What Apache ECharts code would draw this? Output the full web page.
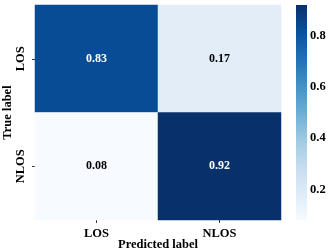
<!DOCTYPE html>
<html>
<head>
<meta charset="utf-8">
<script src="https://cdn.jsdelivr.net/npm/echarts@6/dist/echarts.min.js"></script>
<style>html,body{margin:0;padding:0;background:#fff;}#c{width:332px;height:252px;}</style>
</head>
<body>
<div id="c"></div>
<script>
const predictedLabels = ['LOS', 'NLOS'];
const trueLabels = ['LOS', 'NLOS'];
// rows: true label, cols: predicted label
const matrix = [
  [0.83, 0.17],
  [0.08, 0.92]
];
const colorbarTicks = [0.2, 0.4, 0.6, 0.8];
const vmin = 0.08, vmax = 0.92;
const blues = ['#f7fbff','#deebf7','#c6dbef','#9ecae1','#6baed6','#4292c6','#2171b5','#08519c','#08306b'];

const data = [];
matrix.forEach((row, i) => row.forEach((v, j) => data.push({
  value: [j, i, v],
  label: {color: v > 0.5 ? '#fff' : '#000'}
})));

const font = 'Liberation Serif, Times New Roman, serif';
const chart = echarts.init(document.getElementById('c'));
chart.setOption({
  animation: false,
  backgroundColor: '#fff',
  grid: [
    {left: 35, right: 51, top: 5, bottom: 32, containLabel: false, outerBoundsMode: 'none'},
    {left: 296, width: 11, top: 5, height: 215, containLabel: false, outerBoundsMode: 'none'}
  ],
  xAxis: [
    {type: 'category', data: predictedLabels, gridIndex: 0,
     name: 'Predicted label', nameLocation: 'middle', nameGap: 25, nameMoveOverlap: false,
     nameTextStyle: {fontFamily: font, fontWeight: 'bold', fontSize: 12.5, color: '#000', verticalAlign: 'middle'},
     axisLine: {show: false}, axisTick: {show: true, alignWithLabel: true, length: 3, lineStyle: {color: '#333'}},
     axisLabel: {fontFamily: font, fontWeight: 'bold', fontSize: 12.5, color: '#000', margin: 7},
     splitLine: {show: false}},
    {type: 'value', gridIndex: 1, show: false, min: 0, max: 1}
  ],
  yAxis: [
    {type: 'category', data: trueLabels, gridIndex: 0, inverse: true,
     name: 'True label', nameLocation: 'middle', nameGap: 27, nameMoveOverlap: false,
     nameTextStyle: {fontFamily: font, fontWeight: 'bold', fontSize: 12.5, color: '#000', verticalAlign: 'middle'},
     axisLine: {show: false}, axisTick: {show: true, alignWithLabel: true, length: 3, lineStyle: {color: '#333'}},
     axisLabel: {fontFamily: font, fontWeight: 'bold', fontSize: 12.5, color: '#000', rotate: 90, margin: 8},
     splitLine: {show: false}},
    {type: 'value', gridIndex: 1, position: 'right', min: vmin, max: vmax,
     axisLine: {show: false}, splitLine: {show: false},
     axisTick: {show: true, length: 3, customValues: colorbarTicks, lineStyle: {color: '#333'}},
     axisLabel: {customValues: colorbarTicks, fontFamily: font, fontWeight: 'bold', fontSize: 12.5, color: '#000', margin: 3,
                 formatter: v => v.toFixed(1)}}
  ],
  visualMap: {
    type: 'continuous', min: vmin, max: vmax, calculable: false, seriesIndex: 0,
    show: false, inRange: {color: blues}
  },
  series: [{
    type: 'heatmap', xAxisIndex: 0, yAxisIndex: 0, data: data,
    label: {show: true, fontFamily: font, fontWeight: 'bold', fontSize: 12,
      formatter: p => p.value[2].toFixed(2)},
    itemStyle: {borderWidth: 0}
  }, {
    type: 'custom', xAxisIndex: 1, yAxisIndex: 1, silent: true,
    data: [[0, vmin, 1, vmax]],
    renderItem: (params, api) => {
      const p0 = api.coord([api.value(0), api.value(1)]);
      const p1 = api.coord([api.value(2), api.value(3)]);
      const stops = blues.map((c, i) => ({offset: 1 - i / (blues.length - 1), color: c})).reverse();
      return {
        type: 'rect',
        shape: {x: p0[0], y: p1[1], width: p1[0] - p0[0], height: p0[1] - p1[1]},
        style: {fill: new echarts.graphic.LinearGradient(0, 0, 0, 1, stops)}
      };
    }
  }]
});
</script>
</body>
</html>
